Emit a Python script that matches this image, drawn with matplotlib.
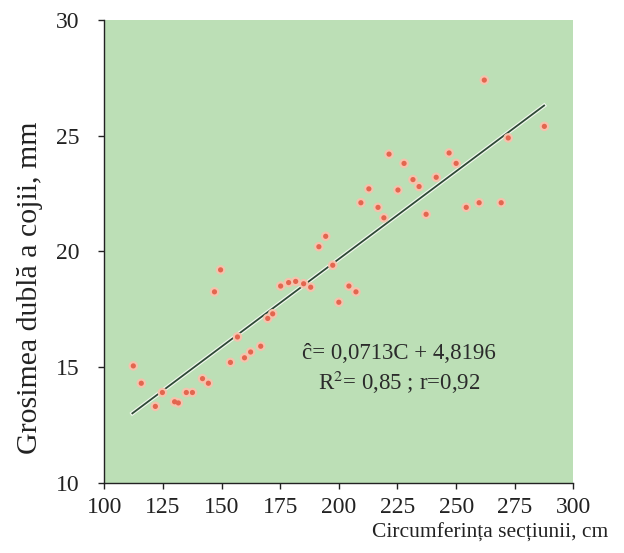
import numpy as np
import matplotlib
matplotlib.use('Agg')
import matplotlib.pyplot as plt

# data
circumf = [112.4, 115.8, 121.8, 124.8, 130.0, 131.6, 135.0, 137.6, 141.9, 144.4,
           147.0, 149.6, 153.8, 156.8, 159.8, 162.4, 166.7, 169.7, 171.8, 175.2,
           178.6, 181.6, 185.0, 188.0, 191.5, 194.4, 197.4, 200.0, 204.3, 207.3,
           209.4, 212.8, 216.7, 219.2, 221.4, 225.2, 227.8, 231.6, 234.2, 237.2,
           241.5, 247.0, 250.0, 254.3, 259.8, 262.0, 269.2, 272.2, 287.6]
grosime = [15.05, 14.3, 13.3, 13.9, 13.5, 13.45, 13.9, 13.9, 14.5, 14.3,
           18.25, 19.2, 15.2, 16.3, 15.4, 15.65, 15.9, 17.1, 17.3, 18.5,
           18.65, 18.7, 18.6, 18.45, 20.2, 20.65, 19.4, 17.8, 18.5, 18.25,
           22.1, 22.7, 21.9, 21.45, 24.2, 22.65, 23.8, 23.1, 22.8, 21.6,
           23.2, 24.25, 23.8, 21.9, 22.1, 27.4, 22.1, 24.9, 25.4]

# trend line as drawn in the picture
line_x = [112.0, 287.5]
line_y = [13.0, 26.3]

x_ticks = [100, 125, 150, 175, 200, 225, 250, 275, 300]
y_ticks = [10, 15, 20, 25, 30]

eq_text = 'ĉ= 0,0713C + 4,8196\nR$^2$= 0,85 ; r=0,92'

plt.rcParams['font.family'] = ['Liberation Serif', 'DejaVu Serif']
plt.rcParams['mathtext.fontset'] = 'stix'

fig = plt.figure(figsize=(6.24, 5.53), dpi=100)
ax = fig.add_axes([0.167, 0.127, 0.752, 0.837])
ax.set_facecolor('#bcdfb6')

ax.plot(line_x, line_y, color='#f2f7ee', lw=3.0, zorder=2)
ax.plot(line_x, line_y, color='#2e4a36', lw=1.3, zorder=3)
ax.scatter(circumf, grosime, s=48, color='#f5c3ad', edgecolors='none', zorder=4)
ax.scatter(circumf, grosime, s=14, color='#e2664f', edgecolors='none', zorder=5)

ax.text(225.6, 14.9, eq_text, ha='center', va='center', fontsize=16.5,
        color='#2b2b2b', linespacing=1.2, zorder=6)

ax.set_xlim(100, 300)
ax.set_ylim(10, 30)
ax.set_xticks(x_ticks)
ax.set_yticks(y_ticks)
ax.tick_params(direction='out', length=4, width=1, labelsize=17, colors='#222222')
ax.tick_params(axis='x', pad=6)
ax.tick_params(axis='y', pad=14)

for side in ['top', 'right']:
    ax.spines[side].set_visible(False)
for side in ['left', 'bottom']:
    ax.spines[side].set_color('#222222')
    ax.spines[side].set_linewidth(1.0)

fig.text(0.048, 0.48, 'Grosimea dublă a cojii, mm', rotation=90, ha='center',
         va='center', fontsize=21.5, color='#222222')
fig.text(0.975, 0.018, 'Circumferința secțiunii, cm', ha='right', va='bottom',
         fontsize=15.5, color='#222222')

plt.savefig('out.png', dpi=100)
